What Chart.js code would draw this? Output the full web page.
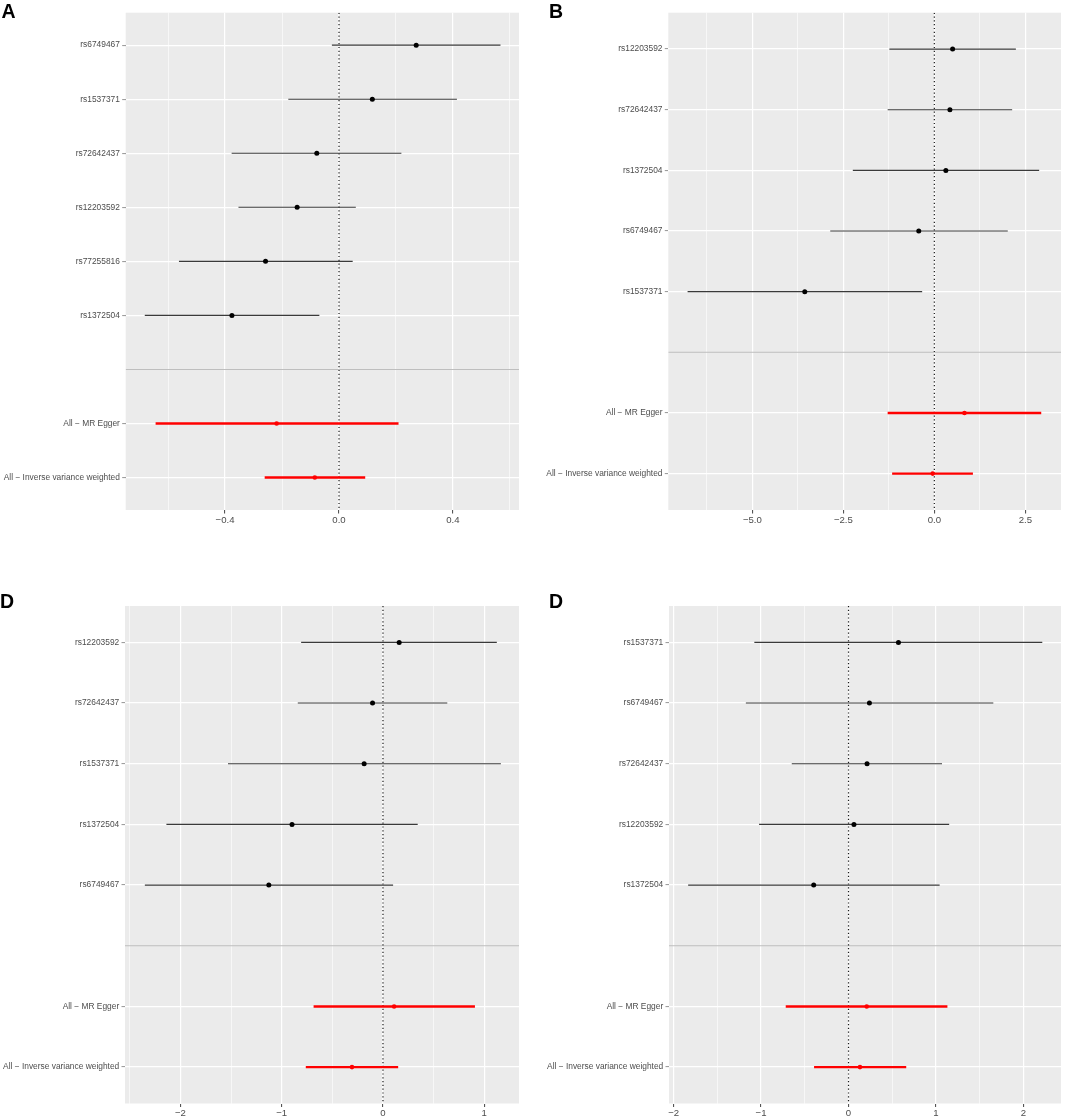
<!DOCTYPE html>
<html>
<head>
<meta charset="utf-8">
<script src="https://cdn.jsdelivr.net/npm/chart.js@4.4.0/dist/chart.umd.min.js"></script>
<style>
  body { margin: 0; background: #fff; width: 1065px; height: 1118px; position: relative; overflow: hidden;
         font-family: "Liberation Sans", Arial, sans-serif; }
  canvas { position: absolute; }
  .tag { position: absolute; font-weight: bold; font-size: 19.5px; line-height: 20px; color: #000; }
</style>
</head>
<body>
<canvas id="pA" width="530" height="540" style="left:0;top:0"></canvas>
<canvas id="pB" width="535" height="540" style="left:530px;top:0"></canvas>
<canvas id="pC" width="530" height="548" style="left:0;top:570px"></canvas>
<canvas id="pD" width="535" height="548" style="left:530px;top:570px"></canvas>
<div class="tag" style="left:1.5px;top:1px">A</div>
<div class="tag" style="left:549px;top:1px">B</div>
<div class="tag" style="left:0px;top:591px">D</div>
<div class="tag" style="left:549px;top:591px">D</div>
<script>
// panel A
const aLabels = ["rs6749467", "rs1537371", "rs72642437", "rs12203592", "rs77255816", "rs1372504",
                 "All − MR Egger", "All − Inverse variance weighted"];
const aEst  = [0.271, 0.117, -0.078, -0.147, -0.258, -0.376, -0.219, -0.085];
const aLow  = [-0.025, -0.178, -0.377, -0.353, -0.562, -0.682, -0.644, -0.261];
const aHigh = [0.567, 0.414, 0.219, 0.059, 0.048, -0.069, 0.209, 0.092];
const aMajor = [-0.4, 0, 0.4];
const aMinor = [-0.6, -0.2, 0.2, 0.6];

// panel B
const bLabels = ["rs12203592", "rs72642437", "rs1372504", "rs6749467", "rs1537371",
                 "All − MR Egger", "All − Inverse variance weighted"];
const bEst  = [0.502, 0.428, 0.316, -0.428, -3.56, 0.827, -0.046];
const bLow  = [-1.236, -1.283, -2.24, -2.86, -6.78, -1.283, -1.16];
const bHigh = [2.24, 2.138, 2.88, 2.017, -0.335, 2.937, 1.06];
const bMajor = [-5, -2.5, 0, 2.5];
const bMinor = [-6.25, -3.75, -1.25, 1.25];

// panel C (tagged D in the figure)
const cLabels = ["rs12203592", "rs72642437", "rs1537371", "rs1372504", "rs6749467",
                 "All − MR Egger", "All − Inverse variance weighted"];
const cEst  = [0.160, -0.103, -0.186, -0.898, -1.127, 0.110, -0.306];
const cLow  = [-0.808, -0.841, -1.530, -2.138, -2.351, -0.685, -0.762];
const cHigh = [1.124, 0.635, 1.164, 0.343, 0.100, 0.908, 0.150];
const cMajor = [-2, -1, 0, 1];
const cMinor = [-2.5, -1.5, -0.5, 0.5];

// panel D
const dLabels = ["rs1537371", "rs6749467", "rs72642437", "rs12203592", "rs1372504",
                 "All − MR Egger", "All − Inverse variance weighted"];
const dEst  = [0.571, 0.239, 0.212, 0.062, -0.398, 0.208, 0.131];
const dLow  = [-1.077, -1.174, -0.649, -1.023, -1.834, -0.718, -0.394];
const dHigh = [2.216, 1.656, 1.069, 1.151, 1.042, 1.131, 0.660];
const dMajor = [-2, -1, 0, 1, 2];
const dMinor = [-1.5, -0.5, 0.5, 1.5];

Chart.defaults.font.family = '"Liberation Sans", Arial, sans-serif';

const panelBg = {
  id: "panelBg",
  beforeDraw(chart) {
    const { ctx, chartArea: a } = chart;
    ctx.save();
    ctx.fillStyle = "#ebebeb";
    ctx.fillRect(a.left, a.top, a.right - a.left, a.bottom - a.top);
    ctx.restore();
  }
};

function fmt(v, digits) {
  const s = Math.abs(v).toFixed(digits);
  return (v < -1e-9 ? "−" : "") + s;
}

function makePanel(id, labels, est, low, high, major, minor, digits, opt) {
  const nSum = 2;
  const nSnp = labels.length - nSum;
  const slot = (i) => (i < nSnp ? i + 1 : i + 2);
  const nSlots = labels.length + 1;
  const slots = labels.map((l, i) => slot(i));
  const isMajor = (v) => major.some((m) => Math.abs(m - v) < 1e-9);
  const xTicks = major.concat(minor).sort((a, b) => a - b);

  const datasets = [];
  // points first so they sit on top of the lines
  datasets.push({
    data: est.map((v, i) => ({ x: v, y: slot(i) })),
    showLine: false,
    pointRadius: est.map((v, i) => (i < nSnp ? 2.5 : 2.3)),
    pointBackgroundColor: est.map((v, i) => (i < nSnp ? "#000" : "#ff0000")),
    pointBorderWidth: 0
  });
  labels.forEach((l, i) => {
    datasets.push({
      data: [{ x: low[i], y: slot(i) }, { x: high[i], y: slot(i) }],
      showLine: true,
      borderColor: i < nSnp ? "#3a3a3a" : "#ff0000",
      borderWidth: i < nSnp ? 1.1 : 2.4,
      pointRadius: 0
    });
  });
  datasets.push({
    data: [{ x: 0, y: 0.4 }, { x: 0, y: nSlots + 0.6 }],
    showLine: true, borderColor: "#1a1a1a", borderWidth: 1.2, borderDash: [1.2, 2.6], pointRadius: 0
  });
  datasets.push({
    data: [{ x: opt.min, y: nSnp + 1 }, { x: opt.max, y: nSnp + 1 }],
    showLine: true, borderColor: "#bebebe", borderWidth: 1.1, pointRadius: 0
  });

  new Chart(document.getElementById(id), {
    type: "scatter",
    data: { datasets: datasets },
    plugins: [panelBg],
    options: {
      responsive: false,
      animation: false,
      layout: { padding: { top: opt.top, right: opt.right, left: 0, bottom: 0 } },
      plugins: { legend: { display: false }, tooltip: { enabled: false } },
      scales: {
        x: {
          type: "linear",
          min: opt.min,
          max: opt.max,
          afterBuildTicks: (s) => { s.ticks = xTicks.map((v) => ({ value: v })); },
          afterFit: (s) => { s.height = opt.xH; },
          border: { display: false },
          grid: {
            color: "#ffffff",
            lineWidth: (c) => (c.tick && isMajor(c.tick.value) ? 1.2 : 0.6),
            tickColor: (c) => (c.tick && isMajor(c.tick.value) ? "#444" : "rgba(0,0,0,0)"),
            tickLength: 3.5,
            tickWidth: 1
          },
          ticks: {
            autoSkip: false, maxRotation: 0, minRotation: 0, padding: 1,
            color: "#4d4d4d", font: { size: 9.6 },
            callback: (v) => (isMajor(v) ? fmt(v, digits) : "")
          }
        },
        y: {
          type: "linear",
          reverse: true,
          min: 0.4,
          max: nSlots + 0.6,
          afterBuildTicks: (s) => { s.ticks = slots.map((v) => ({ value: v })); },
          afterFit: (s) => { s.width = opt.yW; },
          border: { display: false },
          grid: { color: "#ffffff", lineWidth: 1.2, tickColor: "#777", tickLength: 3.5, tickWidth: 0.8 },
          ticks: {
            autoSkip: false, padding: 2.3, color: "#4d4d4d", font: { size: 8.4 },
            callback: (v) => labels[slots.indexOf(v)]
          }
        }
      }
    }
  });
}

makePanel("pA", aLabels, aEst, aLow, aHigh, aMajor, aMinor, 1,
  { min: -0.749, max: 0.632, top: 12.7, right: 11, yW: 125.7, xH: 30 });
makePanel("pB", bLabels, bEst, bLow, bHigh, bMajor, bMinor, 1,
  { min: -7.31, max: 3.48, top: 12.7, right: 1, yW: 138.3, xH: 30 });
makePanel("pC", cLabels, cEst, cLow, cHigh, cMajor, cMinor, 0,
  { min: -2.547, max: 1.343, top: 36, right: 11, yW: 125, xH: 14.5 });
makePanel("pD", dLabels, dEst, dLow, dHigh, dMajor, dMinor, 0,
  { min: -2.053, max: 2.43, top: 36, right: 1, yW: 139, xH: 14.5 });
</script>
</body>
</html>
